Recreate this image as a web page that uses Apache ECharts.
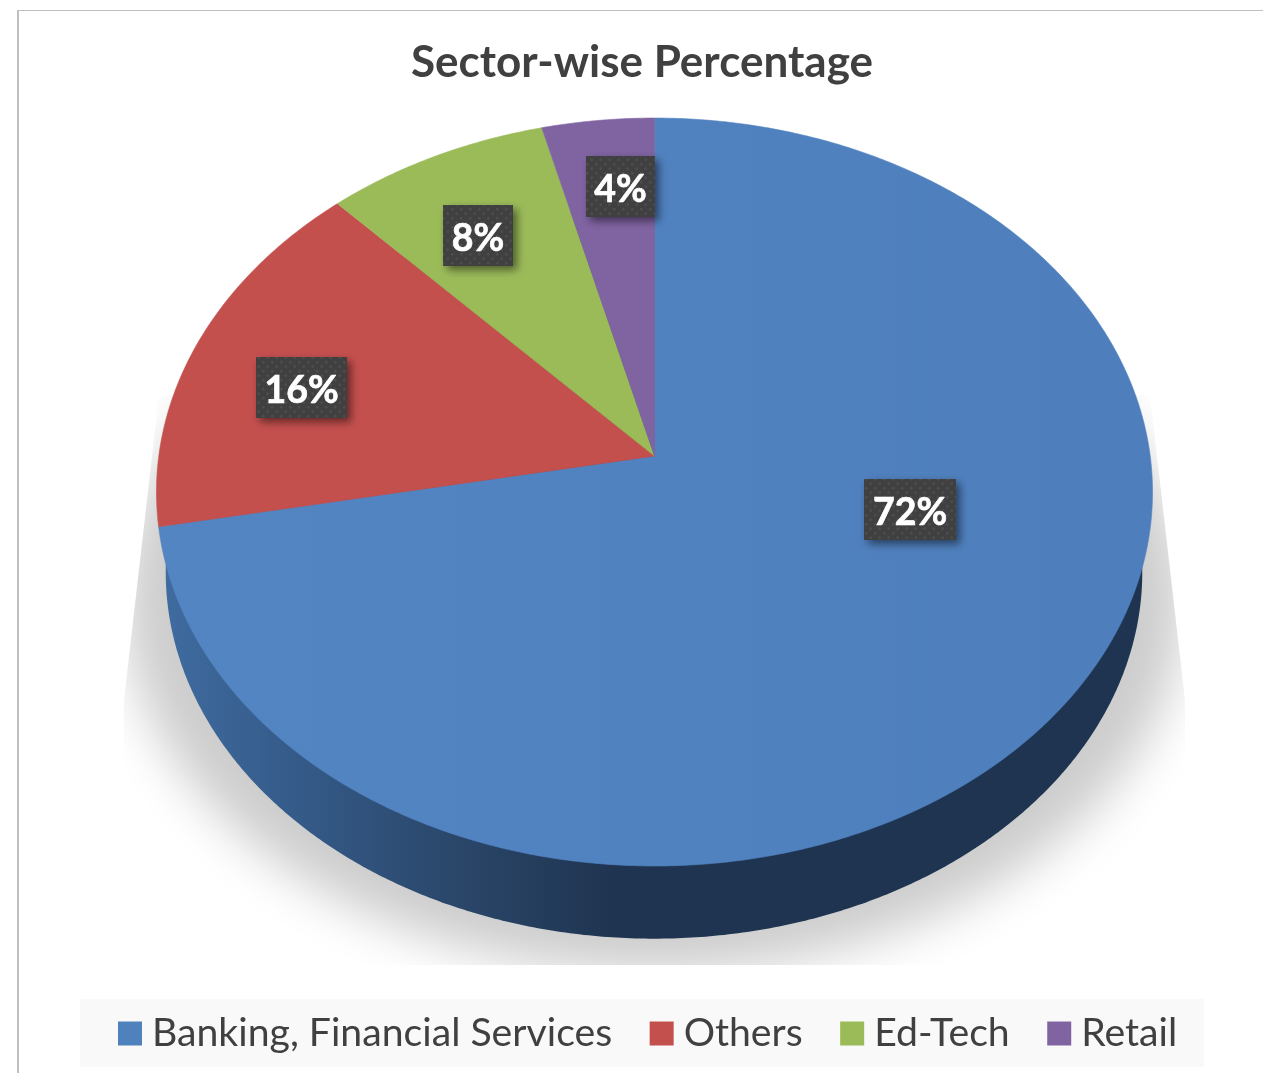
<!DOCTYPE html>
<html>
<head>
<meta charset="utf-8">
<style>html,body{margin:0;padding:0;background:#fff;overflow:hidden}#c{width:1263px;height:1073px}</style>
<script src="https://cdn.jsdelivr.net/npm/echarts@6/dist/echarts.min.js"></script>
</head>
<body>
<div id="c"></div>
<script>
// ---- data ----
const titleText = 'Sector-wise Percentage';
const categories = ['Banking, Financial Services', 'Others', 'Ed-Tech', 'Retail'];
const values = [72, 16, 8, 4];
const colors = ['#4f81bd', '#c4504e', '#9bbb59', '#8064a2'];

// ---- layout of the tilted disc and hand-placed labels ----
const disc = { cx: 654.5, cy: 456, rx: 495.7, ry: 370.5, k: -0.0963 };
const wallRim = { cx: 654, cy: 537, rx: 486, ry: 363, k: -0.0963 };
const shadowRim = { cx: 654, cy: 600, rx: 530, ry: 372, k: 0 };
const labelBoxes = [
  { x: 864, y: 479, w: 92, h: 61 },
  { x: 256, y: 357, w: 91, h: 61 },
  { x: 443, y: 205, w: 70, h: 61 },
  { x: 586, y: 156, w: 69, h: 61 }
];

const total = values.reduce((a, b) => a + b, 0);
const starts = values.map((_, i) => values.slice(0, i).reduce((a, b) => a + b, 0) / total);

function rimPoint(g, frac) {
  const a = frac * Math.PI * 2;
  const u = Math.sin(a), v = -Math.cos(a), d = 1 + g.k * v;
  return [g.cx + g.rx * u / d, g.cy + g.ry * v / d];
}
function arcPoints(g, from, to) {
  const n = Math.max(8, Math.ceil((to - from) * 720));
  const pts = [];
  for (let i = 0; i <= n; i++) pts.push(rimPoint(g, from + (to - from) * i / n));
  return pts;
}

const pattern = document.createElement('canvas');
pattern.width = pattern.height = 9;
(function () {
  const c = pattern.getContext('2d');
  c.fillStyle = '#404040'; c.fillRect(0, 0, 9, 9);
  c.fillStyle = '#4d4d4d';
  [[2.25, 2.25], [6.75, 6.75]].forEach(p => { c.beginPath(); c.arc(p[0], p[1], 1.4, 0, 7); c.fill(); });
})();

const sliceSeries = categories.map((name, i) => ({
  type: 'custom',
  name,
  coordinateSystem: 'none',
  silent: true,
  z: 5,
  itemStyle: { color: colors[i] },
  data: [values[i]],
  renderItem(params, api) {
    const v = api.value(0);
    const from = starts[i], to = from + v / total;
    const pts = [[disc.cx, disc.cy]].concat(arcPoints(disc, from, to));
    const fill = i === 0
      ? { type: 'linear', x: 0, y: 0, x2: 1, y2: 0, colorStops: [{ offset: 0, color: '#5385c3' }, { offset: 1, color: '#4e7fbc' }] }
      : colors[i];
    const b = labelBoxes[i];
    return {
      type: 'group',
      children: [
        { type: 'polygon', shape: { points: pts }, style: { fill, stroke: i === 0 ? '#5082bf' : colors[i], lineWidth: 0.6 } },
        { type: 'rect', shape: { x: b.x, y: b.y, width: b.w, height: b.h },
          style: { fill: { image: pattern, repeat: 'repeat' }, shadowColor: 'rgba(0,0,0,0.5)', shadowBlur: 8, shadowOffsetX: 4, shadowOffsetY: 4 } },
        { type: 'text', style: { x: b.x + b.w / 2, y: b.y + b.h / 2 + 3, text: v + '%', fill: '#ffffff',
          stroke: '#ffffff', lineWidth: 0.7,
          font: 'bold 37.5px Lato', textAlign: 'center', textVerticalAlign: 'middle' } }
      ]
    };
  }
}));

const option = {
  animation: false,
  title: {
    text: titleText, left: 637, top: 36, textAlign: 'center',
    textStyle: { fontFamily: 'Lato', fontWeight: 'bold', fontSize: 44, color: '#404040' }
  },
  legend: {
    data: categories, left: 118, top: 1014, padding: 0,
    itemWidth: 24, itemHeight: 24, itemGap: 37.5, icon: 'rect',
    textStyle: { fontFamily: 'Lato', fontSize: 39.2, color: '#404040', padding: [0, 0, 0, 5] },
    selectedMode: false
  },
  graphic: [
    { type: 'rect', z: 0, shape: { x: 17, y: 10, width: 1246, height: 1 }, style: { fill: '#bfbfbf' } },
    { type: 'rect', z: 0, shape: { x: 17, y: 10, width: 2, height: 1063 }, style: { fill: '#bfbfbf' } },
    { type: 'rect', z: 0, shape: { x: 80, y: 999, width: 1124, height: 68 }, style: { fill: '#f9f9f9' } }
  ],
  series: [
    {
      type: 'custom', name: 'shadow', coordinateSystem: 'none', silent: true, z: 2, data: [total],
      renderItem() {
        return {
          type: 'polygon',
          shape: { points: arcPoints(shadowRim, 0, 1).map(p => [p[0] - 3000, p[1]]) },
          style: { fill: '#cdcdcd', shadowColor: '#cdcdcd', shadowBlur: 50, shadowOffsetX: 3000 },
          clipPath: { type: 'polygon', shape: { points: [[159, 395], [124, 700], [124, 965], [1185, 965], [1185, 700], [1150, 395]] } }
        };
      }
    },
    {
      type: 'custom', name: 'wall', coordinateSystem: 'none', silent: true, z: 3, data: [total],
      renderItem() {
        return {
          type: 'polygon',
          shape: { points: arcPoints(wallRim, 0, 1) },
          style: {
            fill: { type: 'linear', x: 0, y: 0, x2: 1, y2: 0, colorStops: [
              { offset: 0, color: '#3f6b9f' }, { offset: 0.14, color: '#345a88' },
              { offset: 0.3, color: '#2a4669' }, { offset: 0.46, color: '#1f3450' }, { offset: 1, color: '#1e3450' }
            ] }
          }
        };
      }
    }
  ].concat(sliceSeries)
};
const chart = echarts.init(document.getElementById('c'), null, { renderer: 'canvas' });
chart.setOption(option);
</script>
</body>
</html>
